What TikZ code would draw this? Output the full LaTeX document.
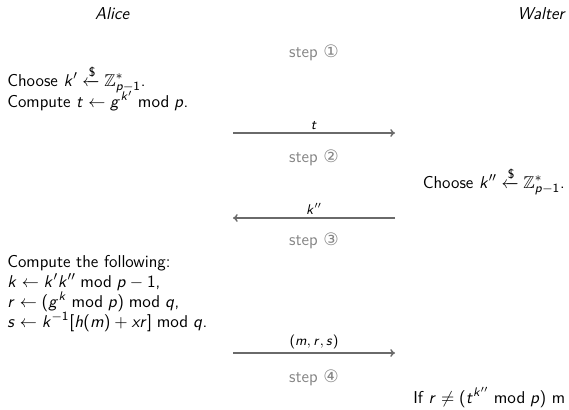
\documentclass[tikz,border=0pt]{standalone}
\usepackage{amsmath,amssymb}
\usepackage[no-math]{fontspec}
\usepackage{xcolor}
\usepackage{tikz}
\usetikzlibrary{arrows.meta,positioning}
\newfontfamily\dejavu{DejaVu Sans}
% sans serif math, as on a slide
\DeclareMathSizes{11}{11}{8.5}{6}
\DeclareSymbolFont{sfletters}{OT1}{cmss}{m}{sl}
\SetSymbolFont{operators}{normal}{OT1}{cmss}{m}{n}
\DeclareMathSymbol{g}{\mathalpha}{sfletters}{`g}
\DeclareMathSymbol{h}{\mathalpha}{sfletters}{`h}
\DeclareMathSymbol{k}{\mathalpha}{sfletters}{`k}
\DeclareMathSymbol{m}{\mathalpha}{sfletters}{`m}
\DeclareMathSymbol{p}{\mathalpha}{sfletters}{`p}
\DeclareMathSymbol{q}{\mathalpha}{sfletters}{`q}
\DeclareMathSymbol{r}{\mathalpha}{sfletters}{`r}
\DeclareMathSymbol{s}{\mathalpha}{sfletters}{`s}
\DeclareMathSymbol{t}{\mathalpha}{sfletters}{`t}
\DeclareMathSymbol{x}{\mathalpha}{sfletters}{`x}
\definecolor{stepgray}{HTML}{858585}
\definecolor{msggray}{HTML}{6A6A6A}
\newcommand{\stepnum}[1]{step {\dejavu #1}}

\begin{document}
\begin{tikzpicture}[x=0.64pt,y=-0.64pt,
        every node/.style={font=\sffamily\fontsize{11}{13}\selectfont},
        party/.style={anchor=base,inner sep=0pt,font=\sffamily\itshape\fontsize{11}{13}\selectfont},
        line/.style={anchor=base west,inner sep=0pt},
        stepnote/.style={anchor=base,inner sep=0pt,text=stepgray},
        msg/.style={-{To[length=3pt,width=5pt]},msggray,line width=0.9pt},
        lbl/.style={above,inner sep=2pt,text=black,font=\sffamily\small}]
  \useasboundingbox (0,0) rectangle (569,410);
  % the two parties
  \node[party] (alice) at (112,19) {Alice};
  \node[party] (walter) at (541,19) {Walter};
  % step 1
  \node[stepnote] (step1) at (314,57) {\stepnum{①}};
  \node[line] (choose1) at (7,86) {Choose $k' \xleftarrow{\$} \mathbb{Z}_{p-1}^*$.};
  \node[line] (compute1) at (7,107) {Compute $t \leftarrow g^{k'} \bmod p$.};
  \coordinate (a1) at (233,133);
  \coordinate (w1) at (395,133);
  \draw[msg] (a1) -- node[lbl] (t) {$t$} (w1);
  % step 2
  \node[stepnote] (step2) at (314,162) {\stepnum{②}};
  \node[line,anchor=base east] (choose2) at (565,188) {Choose $k'' \xleftarrow{\$} \mathbb{Z}_{p-1}^*$.};
  \coordinate (a2) at (233,218);
  \coordinate (w2) at (395,218);
  \draw[msg] (w2) -- node[lbl] (kk) {$k''$} (a2);
  % step 3
  \node[stepnote] (step3) at (314,245) {\stepnum{③}};
  \node[line] (compute2) at (7,267) {Compute the following:};
  \node[line] (kline) at (7,287) {$k \leftarrow k'k'' \bmod p-1$,};
  \node[line] (rline) at (7,307) {$r \leftarrow (g^k \bmod p) \bmod q$,};
  \node[line] (sline) at (7,327) {$s \leftarrow k^{-1}[h(m)+xr] \bmod q$.};
  \coordinate (a3) at (233,353);
  \coordinate (w3) at (395,353);
  \draw[msg] (a3) -- node[lbl] (sig) {$(m,r,s)$} (w3);
  % step 4
  \node[stepnote] (step4) at (314,382) {\stepnum{④}};
  \node[line] (verify) at (413,403) {If $r \neq (t^{k''} \bmod p)$ m};
\end{tikzpicture}
\end{document}
